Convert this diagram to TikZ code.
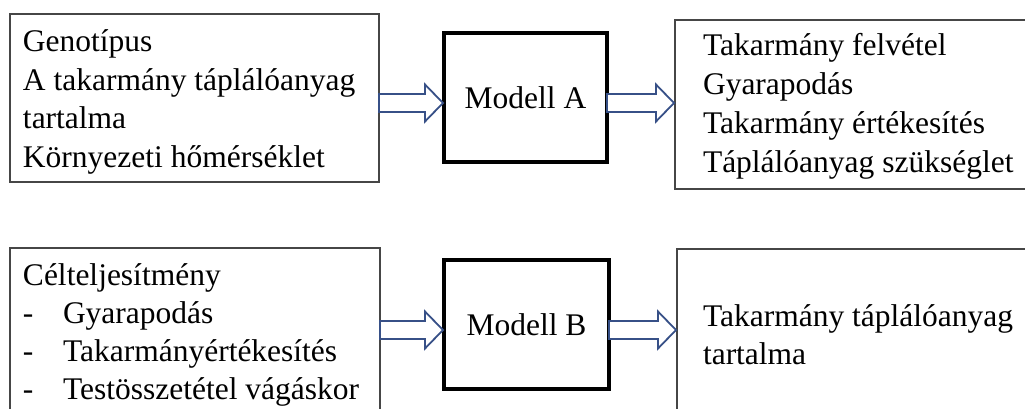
\documentclass[tikz,border=0pt]{standalone}
\usepackage{fontspec}
\setmainfont{Liberation Serif}
\newfontfamily\tnr{Liberation Serif}
\usetikzlibrary{calc}
\definecolor{arrowblue}{RGB}{55,80,135}
\definecolor{boxgray}{RGB}{70,70,70}
\tikzset{
  txtbox/.style={draw=boxgray, line width=1.3pt, anchor=north west, inner sep=0pt, outer sep=0pt, rectangle},
  modelbox/.style={draw=black, line width=4.2pt, anchor=north west, inner sep=0pt, outer sep=0pt, rectangle},
  modeltxt/.style={font=\tnr\fontsize{31.5}{38}\selectfont},
  txt/.style={anchor=base west, inner sep=0pt, outer sep=0pt, font=\tnr\fontsize{31.5}{38}\selectfont},
  blockarrow/.style={draw=arrowblue, fill=white, line width=1.8pt, line join=miter}
}
% #1 source node, #2 target node, #3 model node giving the height
\newcommand\blockarr[3]{%
  \draw[blockarrow] let \p1=(#1.east), \p2=(#2.west), \p3=(#3.center) in
    (\x1,\y3-5.5pt+9pt) -- (\x2-19pt,\y3-5.5pt+9pt) -- (\x2-19pt,\y3-5.5pt+18.5pt)
    -- (\x2-1pt,\y3-5.5pt) -- (\x2-19pt,\y3-5.5pt-18.5pt) -- (\x2-19pt,\y3-5.5pt-9pt)
    -- (\x1,\y3-5.5pt-9pt) -- cycle;}
\begin{document}
\begin{tikzpicture}[x=1pt,y=-1pt]
\clip (0,0) rectangle (1025,408);
\fill[white] (0,0) rectangle (1025,408);
% top row
\node[txtbox, minimum width=369pt, minimum height=168pt] (inA) at (10,14) {};
\node[modelbox, minimum width=163pt, minimum height=129pt] (mA) at (444,33) {};
\node[modeltxt] (mAt) at (mA.center) {Modell A};
\node[txtbox, minimum width=380pt, minimum height=169pt] (outA) at (675,20) {};
\node[txt] (a1) at (23,51) {Genotípus};
\node[txt] (a2) at (23,90) {A takarmány táplálóanyag};
\node[txt] (a3) at (23,128) {tartalma};
\node[txt] (a4) at (23,167) {Környezeti hőmérséklet};
\node[txt] (o1) at (703,55) {Takarmány felvétel};
\node[txt] (o2) at (703,94) {Gyarapodás};
\node[txt] (o3) at (703,133) {Takarmány értékesítés};
\node[txt] (o4) at (703,172) {Táplálóanyag szükséglet};
\blockarr{inA}{mA}{mA}
\blockarr{mA}{outA}{mA}
% bottom row
\node[txtbox, minimum width=370pt, minimum height=180pt] (inB) at (10,248) {};
\node[modelbox, minimum width=165pt, minimum height=129pt] (mB) at (444,260) {};
\node[modeltxt] (mBt) at (mB.center) {Modell B};
\node[txtbox, minimum width=380pt, minimum height=180pt] (outB) at (677,249) {};
\node[txt] (b1) at (23,285) {Célteljesítmény};
\node[txt] (b2d) at (23,323) {-};
\node[txt] (b2) at (63,323) {Gyarapodás};
\node[txt] (b3d) at (23,361) {-};
\node[txt] (b3) at (63,361) {Takarmányértékesítés};
\node[txt] (b4d) at (23,399) {-};
\node[txt] (b4) at (63,399) {Testösszetétel vágáskor};
\node[txt] (p1) at (703,326) {Takarmány táplálóanyag};
\node[txt] (p2) at (703,364) {tartalma};
\blockarr{inB}{mB}{mB}
\blockarr{mB}{outB}{mB}
\end{tikzpicture}
\end{document}
